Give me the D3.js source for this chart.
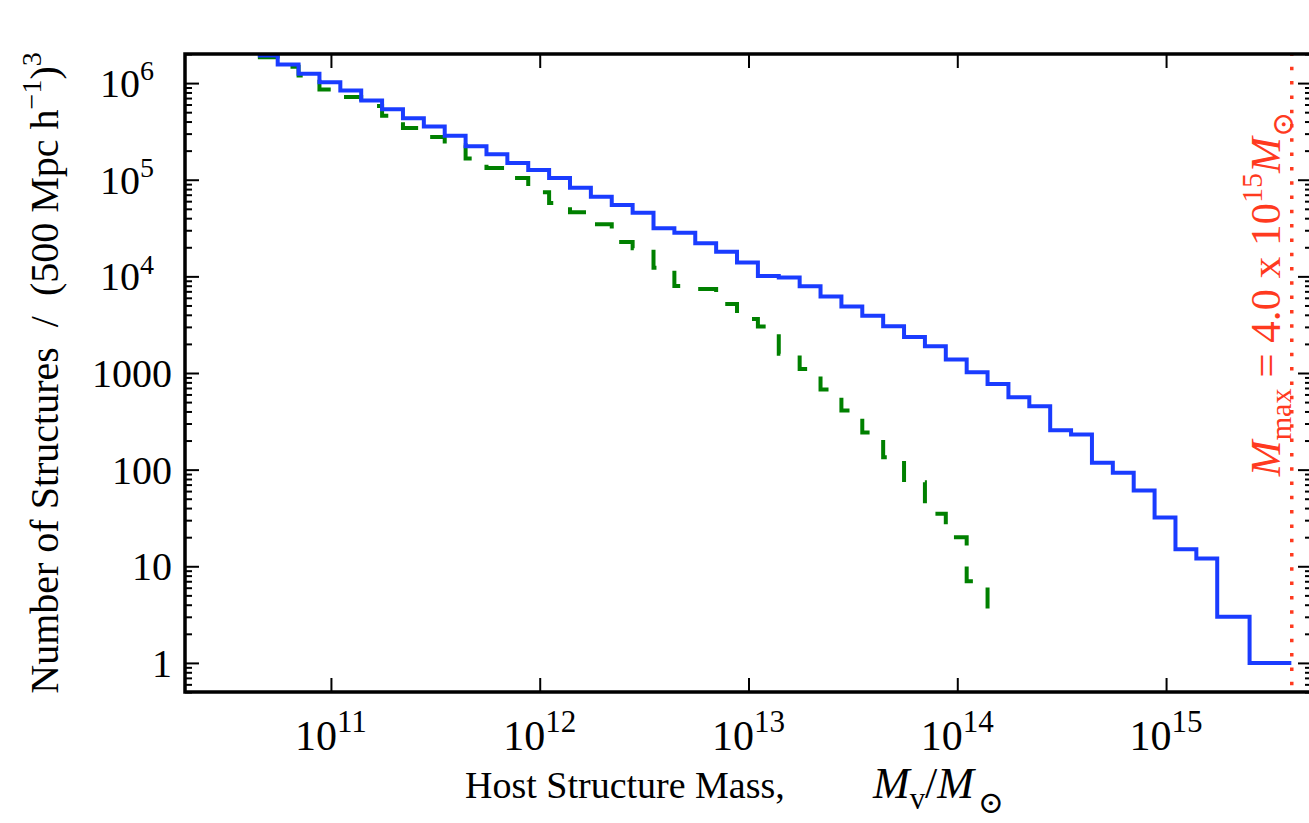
<!DOCTYPE html>
<html lang="en">
<head>
<meta charset="UTF-8">
<title>Host structure mass function</title>
<script src="https://cdn.jsdelivr.net/npm/d3@7"></script>
<style>
  body { margin: 0; background: #fff; }
  text { font-family: "Liberation Serif", "Times New Roman", serif; fill: #000; white-space: pre; }
</style>
</head>
<body>
<script>
// log10 of the host mass at each step edge, and the cumulative count of structures
const massBlue = [10.65, 10.745, 10.845, 10.945, 11.045, 11.145, 11.245, 11.345, 11.445, 11.545,
  11.645, 11.745, 11.845, 11.945, 12.045, 12.145, 12.245, 12.345, 12.445, 12.545,
  12.645, 12.745, 12.845, 12.945, 13.045, 13.145, 13.245, 13.345, 13.445, 13.545,
  13.645, 13.745, 13.845, 13.945, 14.045, 14.145, 14.245, 14.345, 14.445, 14.545,
  14.645, 14.745, 14.845, 14.945, 15.045, 15.145, 15.245, 15.40, 15.60]
const countBlue = [1.93e6, 1.56e6, 1.25e6, 1.02e6, 8.36e5, 6.62e5, 5.36e5, 4.33e5, 3.55e5, 2.86e5,
  2.22e5, 1.84e5, 1.49e5, 1.26e5, 1.04e5, 82400, 66500, 54700, 45500, 31400,
  28300, 22000, 18000, 13900, 10100, 9730, 7890, 6190, 4890, 3920,
  3040, 2360, 1890, 1380, 1020, 771, 560, 453, 256, 231,
  118, 93, 61, 32, 15, 12, 3, 1, 1]

const massGreen = [10.65, 10.745, 10.845, 10.945, 11.045, 11.145, 11.245, 11.345, 11.445, 11.545,
  11.645, 11.745, 11.845, 11.945, 12.045, 12.145, 12.245, 12.345, 12.445, 12.545,
  12.645, 12.745, 12.845, 12.945, 13.045, 13.145, 13.245, 13.345, 13.445, 13.545,
  13.645, 13.745, 13.845, 13.945, 14.045, 14.145]
const countGreen = [1.85e6, 1.48e6, 1.20e6, 8.6e5, 7.16e5, 5.78e5, 4.58e5, 3.43e5, 2.77e5, 2.27e5,
  1.66e5, 1.32e5, 1.04e5, 74300, 57600, 46200, 34700, 22700, 19500, 12300,
  7960, 7410, 5190, 3610, 3030, 1580, 1100, 673, 408, 242,
  134, 74, 35, 20, 7, 3]

const mMax = 4.0e15

const xTicks = [1e11, 1e12, 1e13, 1e14, 1e15]
const xTickLabels = ['10^11', '10^12', '10^13', '10^14', '10^15']
const yTicks = [1, 10, 100, 1000, 1e4, 1e5, 1e6]
const yTickLabels = ['1', '10', '100', '1000', '10^4', '10^5', '10^6']

const width = 1309
const height = 823
const plot = { left: 185, right: 1312, top: 54, bottom: 692 }
const fontSize = 40

const x = d3.scaleLog().domain([2e10, 5e15]).range([plot.left, plot.right])
const y = d3.scaleLog().domain([0.5, 2e6]).range([plot.bottom, plot.top])

const svg = d3.select('body').append('svg')
  .attr('width', width)
  .attr('height', height)

svg.append('clipPath').attr('id', 'clip')
  .append('rect')
  .attr('x', plot.left).attr('y', plot.top)
  .attr('width', plot.right - plot.left)
  .attr('height', plot.bottom - plot.top)

// text with sup / sub / italic pieces
function richText(sel, parts, size, small = 0.7) {
  let shift = 0
  parts.forEach(p => {
    const target = p.k === 'sup' ? -0.42 * size : p.k === 'sub' ? (p.low || 0.25) * size : 0
    const ts = sel.append('tspan').attr('dy', target - shift).text(p.t)
    shift = target
    if (p.k === 'sup' || p.k === 'sub') ts.attr('font-size', size * small)
    if (p.i) ts.attr('font-style', 'italic')
    if (p.f) ts.style('font-family', p.f)
    if (p.dx) ts.attr('dx', p.dx)
  })
}

function labelParts(s) {
  const [base, exp] = s.split('^')
  return exp ? [{ t: base }, { t: exp, k: 'sup' }] : [{ t: base }]
}

// curves
const stepLine = d3.line()
  .x(d => x(Math.pow(10, d[0])))
  .y(d => y(d[1]))
  .curve(d3.curveStepAfter)

const curves = svg.append('g').attr('clip-path', 'url(#clip)')

curves.append('path')
  .datum(d3.zip(massGreen, countGreen))
  .attr('d', stepLine)
  .attr('fill', 'none')
  .attr('stroke', '#008000')
  .attr('stroke-width', 4)
  .attr('stroke-dasharray', '21 21')

curves.append('path')
  .datum(d3.zip(massBlue, countBlue))
  .attr('d', stepLine)
  .attr('fill', 'none')
  .attr('stroke', '#1a3cff')
  .attr('stroke-width', 4)

// axes, ticks pointing inwards on all sides
const minorY = y.ticks().filter(v => !yTicks.includes(v))

function styleAxis(g) {
  g.select('.domain').remove()
  g.selectAll('.tick line').attr('stroke', '#000').attr('stroke-width', 2)
}

svg.append('g').attr('transform', `translate(0,${plot.bottom})`)
  .call(d3.axisBottom(x).tickValues(xTicks).tickSize(-14).tickFormat(''))
  .call(styleAxis)
svg.append('g').attr('transform', `translate(0,${plot.top})`)
  .call(d3.axisTop(x).tickValues(xTicks).tickSize(-14).tickFormat(''))
  .call(styleAxis)

svg.append('g').attr('transform', `translate(${plot.left},0)`)
  .call(d3.axisLeft(y).tickValues(yTicks).tickSize(-14).tickFormat(''))
  .call(styleAxis)
svg.append('g').attr('transform', `translate(${plot.left},0)`)
  .call(d3.axisLeft(y).tickValues(minorY).tickSize(-7).tickFormat(''))
  .call(styleAxis)
svg.append('g').attr('transform', `translate(${plot.right},0)`)
  .call(d3.axisRight(y).tickValues(yTicks).tickSize(-14).tickFormat(''))
  .call(styleAxis)
svg.append('g').attr('transform', `translate(${plot.right},0)`)
  .call(d3.axisRight(y).tickValues(minorY).tickSize(-7).tickFormat(''))
  .call(styleAxis)

// tick labels
svg.append('g').selectAll('text')
  .data(d3.zip(xTicks, xTickLabels))
  .join('text')
  .attr('x', d => x(d[0]))
  .attr('y', 750)
  .attr('text-anchor', 'middle')
  .attr('font-size', 42)
  .each(function (d) { richText(d3.select(this), labelParts(d[1]), 42, 0.74) })

svg.append('g').selectAll('text')
  .data(d3.zip(yTicks, yTickLabels))
  .join('text')
  .attr('x', d => d[1].includes('^') ? 154 : 172)
  .attr('y', d => y(d[0]) + 14)
  .attr('text-anchor', 'end')
  .attr('font-size', fontSize)
  .each(function (d) { richText(d3.select(this), labelParts(d[1]), fontSize) })

// M_max marker
svg.append('line')
  .attr('x1', x(mMax)).attr('x2', x(mMax))
  .attr('y1', plot.top).attr('y2', plot.bottom)
  .attr('stroke', '#ff3a1f')
  .attr('stroke-width', 3.5)
  .attr('stroke-dasharray', '3.5 10.8')
  .attr('stroke-dashoffset', 1.5)

const maxLabel = svg.append('text')
  .attr('transform', `translate(${x(mMax) - 12},294) rotate(-90)`)
  .attr('text-anchor', 'middle')
  .attr('font-size', 43)
  .style('fill', '#ff3a1f')
richText(maxLabel, [
  { t: 'M', i: true },
  { t: 'max', k: 'sub' },
  { t: ' = 4.0 x 10' },
  { t: '15', k: 'sup' },
  { t: 'M', i: true },
  { t: '\u2299', k: 'sub', f: 'DejaVu Serif', low: 0.3 }
], 43)

// spines
svg.append('rect')
  .attr('x', plot.left).attr('y', plot.top)
  .attr('width', plot.right - plot.left)
  .attr('height', plot.bottom - plot.top)
  .attr('fill', 'none')
  .attr('stroke', '#000')
  .attr('stroke-width', 3.5)

// axis titles
svg.append('text')
  .attr('x', 465)
  .attr('y', 798)
  .attr('font-size', 38)
  .text('Host Structure Mass,')

const xMath = svg.append('text')
  .attr('x', 873)
  .attr('y', 798)
  .attr('font-size', 44)
richText(xMath, [
  { t: 'M', i: true },
  { t: 'v', k: 'sub' },
  { t: '/' },
  { t: 'M', i: true },
  { t: '\u2299', k: 'sub', f: 'DejaVu Serif', low: 0.35, dx: 4 }
], 44)

const yTitle = svg.append('text')
  .attr('transform', `translate(58,${(plot.top + plot.bottom) / 2}) rotate(-90)`)
  .attr('text-anchor', 'middle')
  .attr('font-size', fontSize)
richText(yTitle, [
  { t: 'Number of Structures  /  (500 Mpc h' },
  { t: '\u22121', k: 'sup' },
  { t: ')' },
  { t: '3', k: 'sup' }
], fontSize)
</script>
</body>
</html>
